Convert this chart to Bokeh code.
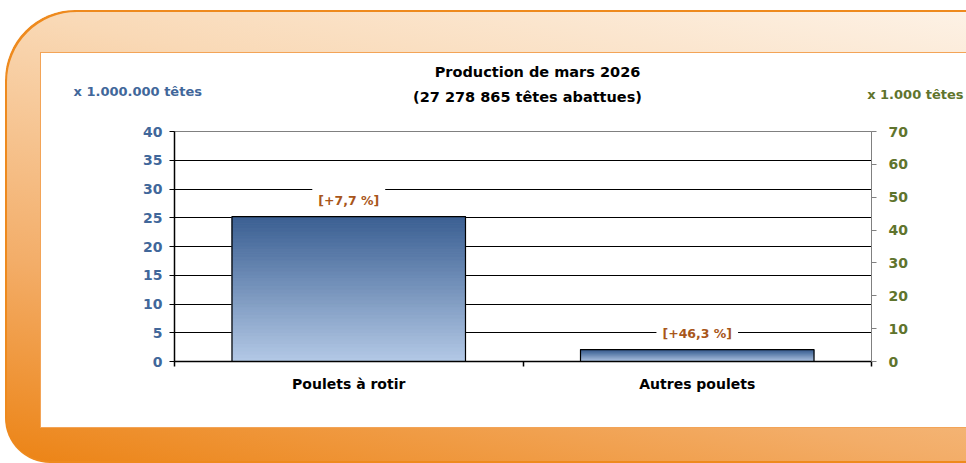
from bokeh.plotting import figure
from bokeh.layouts import column
from bokeh.models import Range1d, LinearAxis, FixedTicker, Label
from bokeh.embed import file_html
from bokeh.resources import INLINE

# ---- data ----
categories = ["Poulets à rotir", "Autres poulets"]
values = [25.2, 2.08]                 # millions de têtes
changes = ["[+7,7 %]", "[+46,3 %]"]
title_lines = ["Production de mars 2026", "(27 278 865 têtes abattues)"]
left_unit = "x 1.000.000 têtes"
right_unit = "x 1.000 têtes"
left_ticks = [0, 5, 10, 15, 20, 25, 30, 35, 40]
right_ticks = [0, 10, 20, 30, 40, 50, 60, 70]

# ---- geometry (layout placed at page x=5, y=10) ----
OX, OY = 5, 10
W = 961
HT = 112                      # header strip height
HM = 453 - HT                 # main chart height
ML, MR, MT, MB = 174 - OX, 95, 131 - OY - HT, 102
ncat = len(categories)
ymax = left_ticks[-1]

FONT = "DejaVu Sans"
BLUE = "#41679a"
GREEN = "#5f742d"
BROWN = "#a8561a"

# ---------------- header (titles) ----------------
top = figure(width=W, height=HT, output_backend="svg", toolbar_location=None,
             x_range=Range1d(OX, OX + W), y_range=Range1d(OY + HT, OY),
             x_axis_type=None, y_axis_type=None, frame_align=False,
             min_border_left=0, min_border_right=0, min_border_top=0, min_border_bottom=0)
top.border_fill_color = None
top.background_fill_color = None
top.outline_line_color = None

def txt(x, y, s, align, size, color):
    top.add_layout(Label(x=x, y=y, text=s, text_align=align, text_baseline="middle",
                         text_font=FONT, text_font_style="bold", text_font_size=size,
                         text_color=color))

txt(537, 71, title_lines[0], "center", "14.5px", "black")
txt(527, 96, title_lines[1], "center", "14.5px", "black")
txt(73, 91, left_unit, "left", "13px", BLUE)
txt(963, 94, right_unit, "right", "13px", GREEN)

# ---------------- main chart ----------------
p = figure(width=W, height=HM, output_backend="svg", toolbar_location=None,
           x_range=Range1d(0, ncat), y_range=Range1d(0, ymax), frame_align=False,
           min_border_left=ML, min_border_right=MR, min_border_top=MT, min_border_bottom=MB)
p.border_fill_color = None
p.background_fill_color = "white"
p.outline_line_color = "#808080"
p.outline_line_width = 1

# grid
p.xgrid.visible = False
p.ygrid.ticker = FixedTicker(ticks=left_ticks[1:-1])
p.ygrid.grid_line_color = "black"
p.ygrid.grid_line_width = 1

# left axis
ya = p.yaxis[0]
ya.ticker = FixedTicker(ticks=left_ticks)
ya.axis_line_color = "black"
ya.axis_line_width = 1.5
ya.major_tick_line_color = "black"
ya.major_tick_in = 0
ya.major_tick_out = 5
ya.minor_tick_line_color = None
ya.major_label_text_font = FONT
ya.major_label_text_font_style = "bold"
ya.major_label_text_font_size = "14px"
ya.major_label_text_color = BLUE
ya.major_label_standoff = 7

# right axis
p.extra_y_ranges = {"r": Range1d(0, right_ticks[-1])}
ra = LinearAxis(y_range_name="r", ticker=FixedTicker(ticks=right_ticks))
ra.axis_line_color = "#808080"
ra.axis_line_width = 1
ra.major_tick_line_color = "#808080"
ra.major_tick_in = 0
ra.major_tick_out = 5
ra.minor_tick_line_color = None
ra.major_label_text_font = FONT
ra.major_label_text_font_style = "bold"
ra.major_label_text_font_size = "14px"
ra.major_label_text_color = GREEN
ra.major_label_standoff = 12
p.add_layout(ra, "right")

# x axis: labels at centers, ticks at boundaries
centers = [i + 0.5 for i in range(ncat)]
xa = p.xaxis[0]
xa.ticker = FixedTicker(ticks=centers, minor_ticks=list(range(ncat + 1)))
xa.major_label_overrides = {c: n for c, n in zip(centers, categories)}
xa.axis_line_color = "black"
xa.axis_line_width = 1.5
xa.major_tick_line_color = None
xa.major_tick_in = 0
xa.major_tick_out = 0
xa.minor_tick_line_color = "black"
xa.minor_tick_line_width = 1.5
xa.minor_tick_in = 0
xa.minor_tick_out = 5
xa.major_label_text_font = FONT
xa.major_label_text_font_style = "bold"
xa.major_label_text_font_size = "14px"
xa.major_label_text_color = "black"
xa.major_label_standoff = 9

# gradient bars (horizontal slices)
BAR_W = 0.67
top_rgb = (0x3a, 0x5f, 0x92)
bot_rgb = (0xb4, 0xc9, 0xe6)
N = 40
sl_x, sl_b, sl_t, sl_c = [], [], [], []
for c, v in zip(centers, values):
    for k in range(N):
        f = (k + 0.5) / N
        rgb = tuple(int(round(b + (t - b) * f)) for b, t in zip(bot_rgb, top_rgb))
        sl_x.append(c)
        sl_b.append(v * k / N)
        sl_t.append(v * (k + 1) / N)
        sl_c.append("#%02x%02x%02x" % rgb)
p.vbar(x=sl_x, bottom=sl_b, top=sl_t, width=BAR_W, fill_color=sl_c, line_color=sl_c, line_width=1)
p.vbar(x=centers, top=values, width=BAR_W, fill_color=None, line_color="black", line_width=1.2)

# value change labels
for c, v, t in zip(centers, values, changes):
    p.add_layout(Label(x=c, y=v, text=t, y_offset=16,
                       text_align="center", text_baseline="middle",
                       text_font=FONT, text_font_style="bold", text_font_size="12.5px",
                       text_color=BROWN, background_fill_color="white", padding=6))

# ---------------- frame (CSS background of the layout) ----------------
lay = column(top, p, spacing=0)
ix, iy = 40 - OX, 52 - OY
lay.styles = {
    "margin-left": f"{OX}px",
    "margin-top": f"{OY}px",
    "background": (
        f"linear-gradient(#ffffff,#ffffff) {ix + 1}px {iy + 1}px / 1000px 374px no-repeat, "
        f"linear-gradient(#f3a457,#f3a457) {ix}px {iy}px / 1000px 376px no-repeat, "
        "linear-gradient(12deg, #ec8314 0%, #f3ad68 31%, #f9d9b6 69%, #fdf2e6 100%)"
    ),
    "border-radius": "70px 0 0 45px",
    "box-shadow": "inset 2px 2px 0 0 #ee8a1e, inset 0 -2px 0 0 #ee8a1e",
}

open("out.html", "w").write(file_html(lay, INLINE))
